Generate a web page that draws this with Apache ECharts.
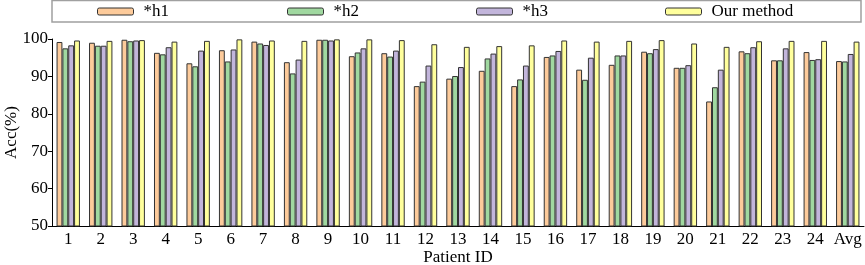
<!DOCTYPE html>
<html>
<head>
<meta charset="utf-8">
<script src="https://cdn.jsdelivr.net/npm/echarts@6/dist/echarts.min.js"></script>
<style>
  html, body {margin: 0; padding: 0; background: #fff;}
  #chart {width: 865px; height: 265px;}
</style>
</head>
<body>
<div id="chart"></div>
<script>
const patients = ['1','2','3','4','5','6','7','8','9','10','11','12','13','14','15','16','17','18','19','20','21','22','23','24','Avg'];
const seriesNames = ['*h1', '*h2', '*h3', 'Our method'];
const h1 = [99.2, 99.0, 99.8, 96.3, 93.5, 97.0, 99.3, 93.8, 99.8, 95.4, 96.2, 87.4, 89.4, 91.5, 87.4, 95.2, 91.8, 93.1, 96.6, 92.3, 83.3, 96.7, 94.3, 96.5, 94.1];
const h2 = [97.5, 98.2, 99.4, 95.9, 92.7, 94.0, 98.8, 90.8, 99.8, 96.4, 95.3, 88.6, 90.1, 94.8, 89.2, 95.6, 89.1, 95.6, 96.2, 92.3, 87.1, 96.2, 94.3, 94.4, 94.0];
const h3 = [98.3, 98.2, 99.6, 97.8, 96.9, 97.2, 98.4, 94.5, 99.6, 97.5, 96.9, 92.9, 92.5, 96.1, 92.9, 96.8, 95.0, 95.6, 97.3, 93.0, 91.8, 97.8, 97.5, 94.6, 96.0];
const ours = [99.6, 99.5, 99.7, 99.3, 99.5, 99.9, 99.6, 99.5, 99.9, 99.9, 99.7, 98.6, 97.9, 98.1, 98.3, 99.6, 99.3, 99.5, 99.7, 98.8, 97.9, 99.4, 99.5, 99.5, 99.3];
const yTicks = [50, 60, 70, 80, 90, 100];

const colors = ['#FDCB9B', '#A0D8A0', '#C2B5DB', '#FFFF9C'];
const font = 'Liberation Serif';
const legendLeft = [97, 287, 476, 665];

const chart = echarts.init(document.getElementById('chart'));
const values = [h1, h2, h3, ours];

chart.setOption({
  animation: false,
  textStyle: {fontFamily: font},
  graphic: [{
    type: 'rect',
    shape: {x: 52, y: 0.5, width: 809, height: 21.5},
    style: {fill: 'none', stroke: '#a0a0a0', lineWidth: 1.5}
  }],
  // one legend per item so the spacing matches the reference
  legend: seriesNames.map((name, i) => ({
    left: legendLeft[i],
    top: 3,
    itemWidth: 36,
    itemHeight: 7,
    padding: 0,
    itemStyle: {borderColor: '#333', borderWidth: 1},
    textStyle: {fontFamily: font, fontSize: 17, color: '#000', padding: [0, 0, 0, 5]},
    data: [name]
  })),
  grid: {left: 52, right: 1, top: 39, bottom: 39, containLabel: false, outerBoundsMode: 'none'},
  xAxis: {
    type: 'category',
    data: patients,
    name: 'Patient ID',
    nameLocation: 'middle',
    nameGap: 23,
    nameMoveOverlap: false,
    nameTextStyle: {fontFamily: font, fontSize: 17, color: '#000'},
    axisLine: {lineStyle: {color: '#000', width: 1}},
    axisTick: {alignWithLabel: true, interval: 0, length: 4, lineStyle: {color: '#000'}},
    axisLabel: {interval: 0, fontFamily: font, fontSize: 17, color: '#000', margin: 5}
  },
  yAxis: {
    type: 'value',
    min: yTicks[0],
    max: yTicks[yTicks.length - 1],
    interval: 10,
    name: 'Acc(%)',
    nameLocation: 'middle',
    nameGap: 32,
    nameMoveOverlap: false,
    nameTextStyle: {fontFamily: font, fontSize: 17, color: '#000'},
    axisLine: {show: true, lineStyle: {color: '#000', width: 1}},
    axisTick: {show: true, length: 4, lineStyle: {color: '#000'}},
    axisLabel: {fontFamily: font, fontSize: 17, color: '#000', margin: 4},
    splitLine: {show: false}
  },
  series: seriesNames.map((name, i) => ({
    name: name,
    type: 'bar',
    data: values[i],
    barGap: '0%',
    barCategoryGap: '28%',
    itemStyle: {color: colors[i], borderColor: '#333', borderWidth: 1}
  }))
});
</script>
</body>
</html>
